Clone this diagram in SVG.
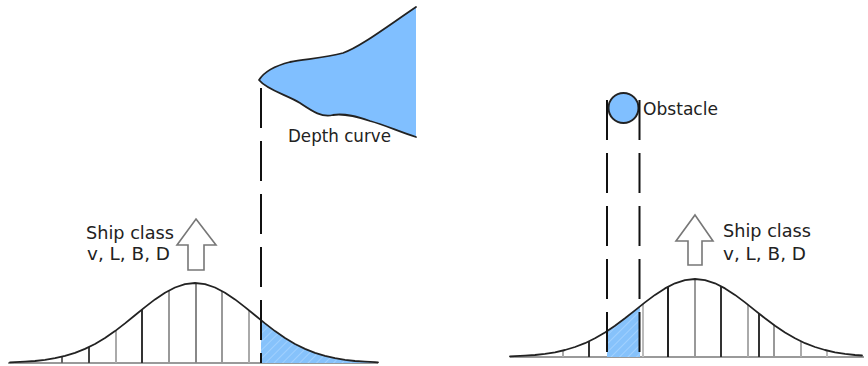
<svg xmlns="http://www.w3.org/2000/svg" width="868" height="366" viewBox="0 0 868 366">
<style>
  .txt{font-family:"DejaVu Sans","Liberation Sans",sans-serif;font-size:17px;fill:#222}
  .curve{fill:none;stroke:#222;stroke-width:1.8;stroke-linejoin:round;stroke-linecap:round}
  .base{stroke:#9a9a9a;stroke-width:2}
  .tick{stroke-width:2}
  .dash{stroke:#111;stroke-width:2;stroke-dasharray:40 13;fill:none}
  .arrow{fill:#fff;stroke:#777;stroke-width:1.6;stroke-linejoin:miter}
  .blue{fill:#80bfff}
</style>
<defs>
  <pattern id="hatch" width="6" height="6" patternUnits="userSpaceOnUse" patternTransform="rotate(45)">
    <rect width="6" height="6" fill="#86c2fb"/>
    <line x1="0" y1="0" x2="0" y2="6" stroke="#a9d5ff" stroke-width="1.5"/>
  </pattern>
</defs>

<g id="depth-curve">
  <path class="blue" d="M259,80 C264,72 274,66 290,62 C305,59 325,58 343,53 C360,47 385,28 416,7 L416,137 C400,132 385,125 370,121 C358,117 345,113 333,115 C322,118 312,111 300,103 C287,95 267,90 259,80 Z"/>
  <path class="curve" d="M416,7 C385,28 360,47 343,53 C325,58 305,59 290,62 C274,66 264,72 259,80 C267,90 287,95 300,103 C312,111 322,118 333,115 C345,113 358,117 370,121 C385,125 400,132 416,137"/>
  <text class="txt" x="288" y="142" textLength="103" lengthAdjust="spacingAndGlyphs">Depth curve</text>
</g>

<g id="obstacle">
  <circle cx="623.5" cy="108" r="15" class="blue" stroke="#222" stroke-width="2"/>
  <text class="txt" x="643" y="115" textLength="75" lengthAdjust="spacingAndGlyphs">Obstacle</text>
</g>

<g id="left-distribution">
  <line class="base" x1="8" y1="363" x2="378" y2="363"/>
  <path fill="url(#hatch)" d="M261,363 L261,320.2 L265,323.4 L275,331.1 L285,338 L295,344 L305,348.9 L315,352.9 L325,355.9 L335,358.2 L345,359.8 L355,361 L365,361.7 L375,362.2 L375,363 Z"/>
  <line class="tick" stroke="#666" x1="62" y1="363" x2="62" y2="356.7"/>
  <line class="tick" stroke="#444" x1="89" y1="363" x2="89" y2="347.1"/>
  <line class="tick" stroke="#aaa" x1="116" y1="363" x2="116" y2="330.4"/>
  <line class="tick" stroke="#333" x1="142" y1="363" x2="142" y2="309.6"/>
  <line class="tick" stroke="#999" x1="169" y1="363" x2="169" y2="290.4"/>
  <line class="tick" stroke="#888" x1="196" y1="363" x2="196" y2="283"/>
  <line class="tick" stroke="#999" x1="222" y1="363" x2="222" y2="291"/>
  <line class="tick" stroke="#aaa" x1="249" y1="363" x2="249" y2="310.4"/>
  <polyline class="curve" points="10,362.4 15,362.2 25,361.7 35,361 45,359.8 55,358.2 65,355.9 75,352.9 85,348.9 95,344 105,338 115,331.1 125,323.4 135,315.3 145,307.1 155,299.4 165,292.7 175,287.5 185,284.1 195,283 205,284.1 215,287.5 225,292.7 235,299.4 245,307.1 255,315.3 265,323.4 275,331.1 285,338 295,344 305,348.9 315,352.9 325,355.9 335,358.2 345,359.8 355,361 365,361.7 375,362.2 378,362.3"/>
  <polygon class="arrow" points="196,219 216,245 204,245 204,270 188,270 188,245 177,245"/>
  <text class="txt" x="86" y="239" textLength="88" lengthAdjust="spacingAndGlyphs">Ship class</text>
  <text class="txt" x="87" y="260" textLength="83" lengthAdjust="spacingAndGlyphs">v, L, B, D</text>
</g>

<g id="right-distribution">
  <line class="base" x1="510" y1="357" x2="864" y2="357"/>
  <path fill="url(#hatch)" d="M607,357 L607,331.2 L620,322.1 L630,314.3 L640,306.6 L640,357 Z"/>
  <line class="tick" stroke="#aaa" x1="563" y1="357" x2="563" y2="350.5"/>
  <line class="tick" stroke="#333" x1="589" y1="357" x2="589" y2="341.3"/>
  <line class="tick" stroke="#bbb" x1="643" y1="357" x2="643" y2="304"/>
  <line class="tick" stroke="#222" x1="668" y1="357" x2="668" y2="286.7"/>
  <line class="tick" stroke="#999" x1="695" y1="357" x2="695" y2="279"/>
  <line class="tick" stroke="#333" x1="721" y1="357" x2="721" y2="286.2"/>
  <line class="tick" stroke="#aaa" x1="748" y1="357" x2="748" y2="304.8"/>
  <line class="tick" stroke="#333" x1="759" y1="357" x2="759" y2="313.5"/>
  <line class="tick" stroke="#999" x1="774" y1="357" x2="774" y2="325"/>
  <line class="tick" stroke="#aaa" x1="801" y1="357" x2="801" y2="341.3"/>
  <line class="tick" stroke="#bbb" x1="827" y1="357" x2="827" y2="350.5"/>
  <polyline class="curve" points="510,356.4 515,356.2 525,355.7 535,355 545,353.9 555,352.3 565,350 575,347 585,343.2 595,338.3 605,332.5 615,325.7 625,318.3 635,310.4 645,302.4 655,294.9 665,288.4 675,283.3 685,280.1 695,279 705,280.1 715,283.3 725,288.4 735,294.9 745,302.4 755,310.4 765,318.3 775,325.7 785,332.5 795,338.3 805,343.2 815,347 825,350 835,352.3 845,353.9 855,355 862,355.5"/>
  <polygon class="arrow" points="695,215 713,241 702,241 702,265 688,265 688,241 676,241"/>
  <text class="txt" x="723" y="237" textLength="88" lengthAdjust="spacingAndGlyphs">Ship class</text>
  <text class="txt" x="723" y="260" textLength="83" lengthAdjust="spacingAndGlyphs">v, L, B, D</text>
</g>

<g id="connectors">
  <line class="dash" x1="261" y1="88" x2="261" y2="363"/>
  <line class="dash" x1="607" y1="100" x2="607" y2="357"/>
  <line class="dash" x1="639.5" y1="100" x2="639.5" y2="357"/>
</g>
</svg>
